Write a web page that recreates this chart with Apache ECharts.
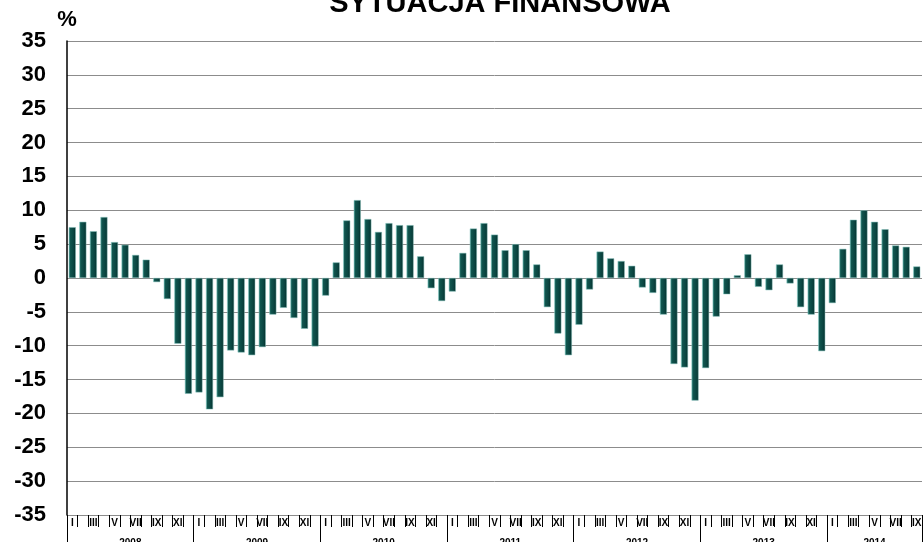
<!DOCTYPE html>
<html>
<head>
<meta charset="utf-8">
<script src="https://cdn.jsdelivr.net/npm/echarts@6/dist/echarts.min.js"></script>
<style>
  html, body { margin: 0; padding: 0; background: #fff; }
  #chart { width: 923px; height: 542px; }
</style>
</head>
<body>
<div id="chart"></div>
<script>
  // month labels (only odd months get a roman numeral)
  const monthNames = ['I', '', 'III', '', 'V', '', 'VII', '', 'IX', '', 'XI', '']
  const years = ['2008', '2009', '2010', '2011', '2012', '2013', '2014']

  // saldo, %, I 2008 - IX 2014
  const values = [
    7.5, 8.3, 6.9, 9.0, 5.3, 4.9, 3.4, 2.7, -0.6, -3.1, -9.7, -17.1,
    -16.9, -19.4, -17.6, -10.7, -11.0, -11.4, -10.2, -5.4, -4.4, -5.9, -7.5, -10.1,
    -2.6, 2.3, 8.5, 11.5, 8.7, 6.8, 8.1, 7.8, 7.8, 3.2, -1.5, -3.4,
    -2.0, 3.7, 7.3, 8.1, 6.4, 4.1, 5.0, 4.1, 2.0, -4.3, -8.2, -11.4,
    -6.9, -1.7, 3.9, 2.9, 2.5, 1.8, -1.4, -2.2, -5.4, -12.7, -13.2, -18.1,
    -13.3, -5.7, -2.4, 0.4, 3.5, -1.3, -1.8, 2.0, -0.8, -4.3, -5.4, -10.8,
    -3.7, 4.3, 8.6, 10.0, 8.3, 7.2, 4.8, 4.6, 1.7
  ]

  const yTicks = { min: -35, max: 35, step: 5 }

  // kategorie miesięcy
  const categories = values.map((v, i) => monthNames[i % 12])

  // granice lat i środki etykiet lat
  const yearBounds = years.map((y, i) => i * 12).concat([values.length])
  const yearCenters = years.map((y, i) => (yearBounds[i] + yearBounds[i + 1]) / 2)

  const chart = echarts.init(document.getElementById('chart'))
  const font = 'Liberation Sans, Arial, sans-serif'

  chart.setOption({
    animation: false,
    title: {
      text: 'SYTUACJA FINANSOWA',
      left: 495,
      textAlign: 'center',
      top: -16,
      textStyle: { fontFamily: font, fontSize: 29, fontWeight: 'bold', color: '#000' }
    },
    grid: { left: 67, right: 1, top: 41, bottom: 27, outerBoundsMode: 'none', containLabel: false },
    xAxis: [
      {
        type: 'category',
        data: categories,
        boundaryGap: true,
        axisLine: { show: true, onZero: false, lineStyle: { color: '#8c8c8c', width: 1 } },
        axisTick: { show: true, interval: 0, length: 12, lineStyle: { color: '#000' } },
        axisLabel: {
          interval: 0,
          margin: 3,
          fontFamily: font,
          fontSize: 10,
          fontWeight: 'bold',
          color: '#000'
        },
        splitLine: { show: false }
      },
      {
        type: 'value',
        min: 0,
        max: values.length,
        position: 'bottom',
        axisLine: { show: false, onZero: false },
        splitLine: { show: false },
        axisTick: {
          show: true,
          customValues: yearBounds,
          length: 27,
          lineStyle: { color: '#000' }
        },
        axisLabel: {
          customValues: yearCenters,
          formatter: (val) => years[yearCenters.indexOf(val)] || '',
          margin: 23,
          fontFamily: font,
          fontSize: 10,
          fontWeight: 'bold',
          color: '#000'
        }
      }
    ],
    yAxis: {
      type: 'value',
      min: yTicks.min,
      max: yTicks.max,
      interval: yTicks.step,
      name: '%',
      nameLocation: 'end',
      nameGap: 10,
      nameTextStyle: { fontFamily: font, fontSize: 22, fontWeight: 'bold', color: '#000', align: 'center' },
      axisLine: { show: true, lineStyle: { color: '#000', width: 1.5 } },
      axisTick: { show: false },
      axisLabel: {
        margin: 21,
        fontFamily: font,
        fontSize: 22,
        fontWeight: 'bold',
        color: '#000'
      },
      splitLine: { show: true, lineStyle: { color: '#8c8c8c', width: 1 } }
    },
    series: [
      {
        type: 'bar',
        xAxisIndex: 0,
        data: values,
        barWidth: 7,
        itemStyle: {
          color: new echarts.graphic.LinearGradient(0, 0, 1, 0, [
            { offset: 0, color: '#3f9a93' },
            { offset: 0.2, color: '#11564f' },
            { offset: 0.7, color: '#0a4440' },
            { offset: 1, color: '#042b28' }
          ]),
          borderColor: '#7fbdb7',
          borderWidth: 0.5
        }
      }
    ]
  })
</script>
</body>
</html>
